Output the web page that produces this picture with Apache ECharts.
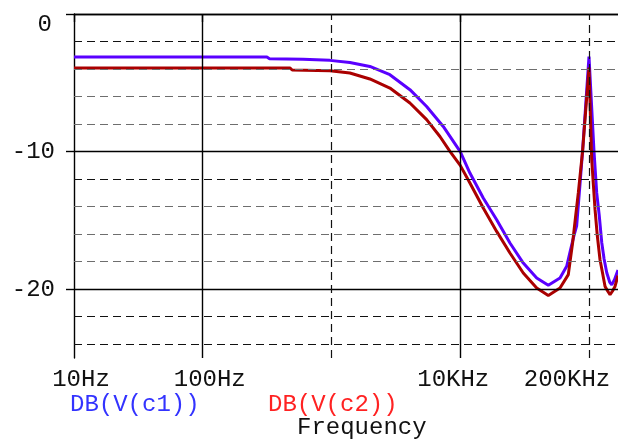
<!DOCTYPE html>
<html><head><meta charset="utf-8">
<script src="https://cdn.jsdelivr.net/npm/echarts@6/dist/echarts.min.js"></script>
<style>html,body{margin:0;padding:0;background:#fff}#c{width:618px;height:439px}</style>
</head><body><div id="c"></div>
<script>
// ---- data ----
const seriesNames = ['DB(V(c1))', 'DB(V(c2))'];
const c1Freq = [10, 315, 330, 600, 971, 1389, 1987, 2842, 4066, 5482, 7377, 10000, 11890, 15090, 19180, 24330, 30870, 39250, 48300, 59540, 67120, 71210, 76000, 80200, 85100, 89100, 100000, 109400, 114800, 120000, 125600, 131000, 137400, 145000, 150200, 158000, 168000];
const c1DB   = [-3.13, -3.13, -3.25, -3.28, -3.37, -3.52, -3.81, -4.41, -5.5, -6.72, -8.17, -10.0, -11.56, -13.37, -14.95, -16.64, -18.1, -19.19, -19.72, -19.19, -18.34, -17.3, -16.2, -15.4, -12.4, -10.0, -3.1, -10.0, -13.0, -14.6, -16.6, -17.8, -18.8, -19.5, -19.67, -19.3, -18.6];
const c2Freq = [10, 475, 495, 971, 1389, 1987, 2842, 4066, 5482, 6955, 8318, 10000, 11890, 15090, 19180, 24330, 30870, 39250, 48300, 59540, 69080, 71500, 74700, 78500, 82600, 89100, 100000, 105000, 111400, 116000, 121800, 127000, 133300, 140000, 145700, 152000, 159300, 168000];
const c2DB   = [-3.92, -3.92, -4.07, -4.12, -4.29, -4.72, -5.38, -6.47, -7.68, -8.9, -9.98, -11.0, -12.28, -14.1, -15.8, -17.37, -18.82, -19.91, -20.45, -19.91, -18.94, -17.9, -16.6, -14.8, -13.0, -10.0, -3.9, -10.6, -14.2, -16.1, -17.86, -18.75, -19.8, -20.15, -20.4, -20.15, -19.8, -19.0];
const xTickValues = [10, 100, 10000, 100000];
const xTickLabels = ['10Hz', '100Hz', '10KHz', '200KHz'];
const xMajorTicks = [10, 100, 10000];
const yTickValues = [0, -10, -20];
const yTickLabels = ['0', '-10', '-20'];
const xAxisTitle = 'Frequency';
const xRange = [10, 168000];
const yRange = [-25, 0];
// grid line positions
const hSolid = [0, -10, -20];
const hDashDark = [-2, -12, -22, -24];
const hDashGray = [-4, -6, -8, -14, -16, -18];
const vSolid = [100, 10000];
const vDash = [1000, 100000];

// ---- styles ----
const FONT = '"Liberation Mono", "DejaVu Sans Mono", monospace';
const FS = 24;
const dashDark = {color: '#111', width: 1.2, type: [8, 5]};
const dashGray = {color: '#6e6e6e', width: 1.2, type: [8, 5]};
const solid = {color: '#000', width: 1.4, type: 'solid'};

const gridLines = []
  .concat(hSolid.map(v => ({yAxis: v, lineStyle: solid})))
  .concat(hDashDark.map(v => ({yAxis: v, lineStyle: dashDark})))
  .concat(hDashGray.map(v => ({yAxis: v, lineStyle: dashGray})))
  .concat(vSolid.map(v => ({xAxis: v, lineStyle: solid})))
  .concat(vDash.map(v => ({xAxis: v, lineStyle: dashDark})));

function pairs(xs, ys) { return xs.map((x, i) => [x, ys[i]]); }
function findIdx(arr, v, log) {
  for (let i = 0; i < arr.length; i++) {
    const d = log ? Math.abs(Math.log10(v) - Math.log10(arr[i])) : Math.abs(v - arr[i]);
    if (d < 1e-6) return i;
  }
  return -1;
}

const chart = echarts.init(document.getElementById('c'), null, {renderer: 'canvas'});
chart.setOption({
  animation: false,
  backgroundColor: '#fff',
  grid: {left: 74, right: 0, top: 14, bottom: 81, containLabel: false},
  xAxis: {
    type: 'log', logBase: 10, min: xRange[0], max: xRange[1],
    axisLine: {show: true, lineStyle: {color: '#000', width: 1.4}},
    axisTick: {show: true, customValues: xMajorTicks, length: 8, inside: false, lineStyle: {color: '#000', width: 1.4}},
    splitLine: {show: false}, minorTick: {show: false}, minorSplitLine: {show: false},
    axisLabel: {
      customValues: xTickValues, margin: 10, fontFamily: FONT, fontSize: FS, color: '#111',
      formatter: function (v) {
        const i = findIdx(xTickValues, v, true);
        return i < 0 ? '' : '{s' + i + '|' + xTickLabels[i] + '}';
      },
      rich: {
        s0: {fontFamily: FONT, fontSize: FS, color: '#111', padding: [0, 0, 0, 14]},
        s1: {fontFamily: FONT, fontSize: FS, color: '#111', padding: [0, 0, 0, 14]},
        s2: {fontFamily: FONT, fontSize: FS, color: '#111', padding: [0, 14, 0, 0]},
        s3: {fontFamily: FONT, fontSize: FS, color: '#111', padding: [0, 44, 0, 0]}
      }
    }
  },
  yAxis: {
    type: 'value', min: yRange[0], max: yRange[1],
    axisLine: {show: true, lineStyle: {color: '#000', width: 1.4}},
    axisTick: {show: true, customValues: yTickValues, length: 8, inside: false, lineStyle: {color: '#000', width: 1.4}},
    splitLine: {show: false},
    axisLabel: {
      customValues: yTickValues, margin: 19, fontFamily: FONT, fontSize: FS, color: '#111',
      formatter: function (v) {
        const i = findIdx(yTickValues, v, false);
        if (i < 0) return '';
        return i === 0 ? '{z|' + yTickLabels[i] + '}' : yTickLabels[i];
      },
      rich: {z: {fontFamily: FONT, fontSize: FS, color: '#111', padding: [22, 3, 0, 0]}}
    }
  },
  series: [
    {
      type: 'line', name: 'grid', data: [], z: 1, silent: true,
      markLine: {silent: true, symbol: ['none', 'none'], label: {show: false}, animation: false,
        emphasis: {disabled: true}, data: gridLines}
    },
    {type: 'line', name: seriesNames[0], data: pairs(c1Freq, c1DB), showSymbol: false, z: 3,
      lineStyle: {color: '#5a00ff', width: 3}, itemStyle: {color: '#5a00ff'}},
    {type: 'line', name: seriesNames[1], data: pairs(c2Freq, c2DB), showSymbol: false, z: 4,
      lineStyle: {color: '#aa0000', width: 3}, itemStyle: {color: '#aa0000'}}
  ],
  graphic: [
    {type: 'text', left: 70, top: 393, style: {text: seriesNames[0], font: FS + 'px ' + FONT, fill: '#3333ff'}},
    {type: 'text', left: 268, top: 393, style: {text: seriesNames[1], font: FS + 'px ' + FONT, fill: '#ff2222'}},
    {type: 'text', left: 297, top: 416, style: {text: xAxisTitle, font: FS + 'px ' + FONT, fill: '#111'}}
  ]
});
</script>
</body></html>
